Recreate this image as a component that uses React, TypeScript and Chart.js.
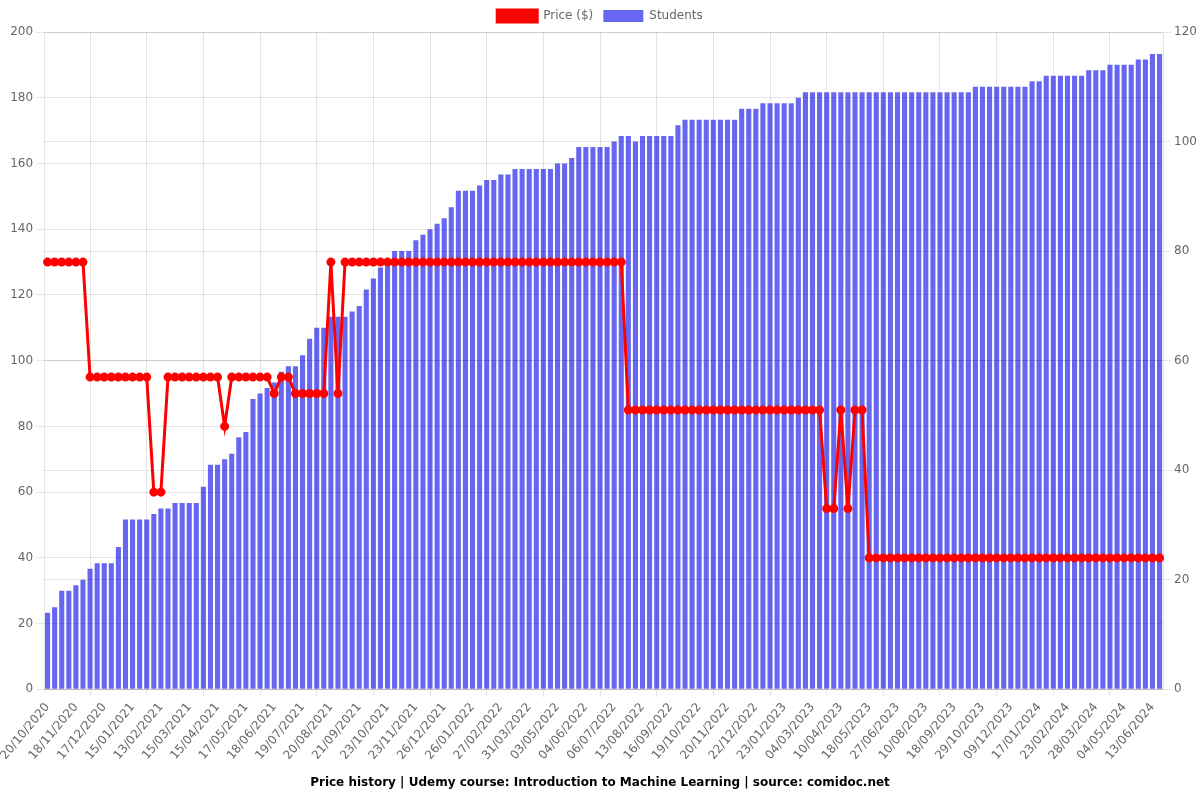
import React, { useEffect, useRef } from "react";
import { Chart, registerables } from "chart.js";

Chart.register(...registerables);

const dates: string[] = [
  "20/10/2020", "27/10/2020", "03/11/2020", "11/11/2020",
  "18/11/2020", "25/11/2020", "02/12/2020", "10/12/2020",
  "17/12/2020", "24/12/2020", "31/12/2020", "08/01/2021",
  "15/01/2021", "22/01/2021", "29/01/2021", "06/02/2021",
  "13/02/2021", "20/02/2021", "28/02/2021", "07/03/2021",
  "15/03/2021", "23/03/2021", "31/03/2021", "08/04/2021",
  "15/04/2021", "23/04/2021", "01/05/2021", "09/05/2021",
  "17/05/2021", "25/05/2021", "02/06/2021", "10/06/2021",
  "18/06/2021", "26/06/2021", "04/07/2021", "11/07/2021",
  "19/07/2021", "27/07/2021", "04/08/2021", "12/08/2021",
  "20/08/2021", "28/08/2021", "05/09/2021", "13/09/2021",
  "21/09/2021", "29/09/2021", "07/10/2021", "15/10/2021",
  "23/10/2021", "31/10/2021", "08/11/2021", "15/11/2021",
  "23/11/2021", "01/12/2021", "09/12/2021", "17/12/2021",
  "26/12/2021", "03/01/2022", "11/01/2022", "18/01/2022",
  "26/01/2022", "03/02/2022", "11/02/2022", "19/02/2022",
  "27/02/2022", "07/03/2022", "15/03/2022", "23/03/2022",
  "31/03/2022", "08/04/2022", "16/04/2022", "25/04/2022",
  "03/05/2022", "11/05/2022", "19/05/2022", "27/05/2022",
  "04/06/2022", "12/06/2022", "20/06/2022", "28/06/2022",
  "06/07/2022", "15/07/2022", "25/07/2022", "04/08/2022",
  "13/08/2022", "21/08/2022", "29/08/2022", "07/09/2022",
  "16/09/2022", "24/09/2022", "02/10/2022", "11/10/2022",
  "19/10/2022", "27/10/2022", "04/11/2022", "12/11/2022",
  "20/11/2022", "28/11/2022", "06/12/2022", "14/12/2022",
  "22/12/2022", "30/12/2022", "07/01/2023", "15/01/2023",
  "23/01/2023", "02/02/2023", "12/02/2023", "22/02/2023",
  "04/03/2023", "13/03/2023", "22/03/2023", "31/03/2023",
  "10/04/2023", "19/04/2023", "29/04/2023", "08/05/2023",
  "18/05/2023", "28/05/2023", "07/06/2023", "17/06/2023",
  "27/06/2023", "08/07/2023", "19/07/2023", "30/07/2023",
  "10/08/2023", "20/08/2023", "30/08/2023", "08/09/2023",
  "18/09/2023", "28/09/2023", "08/10/2023", "19/10/2023",
  "29/10/2023", "08/11/2023", "19/11/2023", "29/11/2023",
  "09/12/2023", "19/12/2023", "29/12/2023", "07/01/2024",
  "17/01/2024", "26/01/2024", "04/02/2024", "14/02/2024",
  "23/02/2024", "02/03/2024", "10/03/2024", "19/03/2024",
  "28/03/2024", "06/04/2024", "15/04/2024", "25/04/2024",
  "04/05/2024", "14/05/2024", "24/05/2024", "03/06/2024",
  "13/06/2024", "22/06/2024",
];

const prices: number[] = [
  130, 130, 130, 130, 130, 130,
  95, 95, 95, 95, 95, 95, 95, 95, 95,
  60, 60,
  95, 95, 95, 95, 95, 95, 95, 95,
  80,
  95, 95, 95, 95, 95, 95,
  90,
  95, 95,
  90, 90, 90, 90, 90,
  130,
  90,
  130, 130, 130, 130, 130, 130, 130, 130, 130, 130,
  130, 130, 130, 130, 130, 130, 130, 130, 130, 130,
  130, 130, 130, 130, 130, 130, 130, 130, 130, 130,
  130, 130, 130, 130, 130, 130, 130, 130, 130, 130,
  85, 85, 85, 85, 85, 85, 85, 85, 85, 85,
  85, 85, 85, 85, 85, 85, 85, 85, 85, 85,
  85, 85, 85, 85, 85, 85, 85, 85,
  55, 55,
  85,
  55,
  85, 85,
  40, 40, 40, 40, 40, 40, 40, 40, 40, 40,
  40, 40, 40, 40, 40, 40, 40, 40, 40, 40,
  40, 40, 40, 40, 40, 40, 40, 40, 40, 40,
  40, 40, 40, 40, 40, 40, 40, 40, 40, 40,
  40, 40,
];

const students: number[] = [
  14, 15, 18, 18, 19, 20, 22, 23, 23, 23,
  26, 31, 31, 31, 31, 32, 33, 33, 34, 34,
  34, 34, 37, 41, 41, 42, 43, 46, 47, 53,
  54, 55, 56, 58, 59, 59, 61, 64, 66, 66,
  68, 68, 68, 69, 70, 73, 75, 77, 78, 80,
  80, 80, 82, 83, 84, 85, 86, 88, 91, 91,
  91, 92, 93, 93, 94, 94, 95, 95, 95, 95,
  95, 95, 96, 96, 97, 99, 99, 99, 99, 99,
  100, 101, 101, 100, 101, 101, 101, 101, 101, 103,
  104, 104, 104, 104, 104, 104, 104, 104, 106, 106,
  106, 107, 107, 107, 107, 107, 108, 109, 109, 109,
  109, 109, 109, 109, 109, 109, 109, 109, 109, 109,
  109, 109, 109, 109, 109, 109, 109, 109, 109, 109,
  109, 110, 110, 110, 110, 110, 110, 110, 110, 111,
  111, 112, 112, 112, 112, 112, 112, 113, 113, 113,
  114, 114, 114, 114, 115, 115, 116, 116,
];

const titleText = "Price history | Udemy course: Introduction to Machine Learning | source: comidoc.net";

export default function App() {
  const canvasRef = useRef<HTMLCanvasElement | null>(null);

  useEffect(() => {
    if (!canvasRef.current) return;
    Chart.defaults.font.family = "'DejaVu Sans', sans-serif";
    Chart.defaults.font.size = 12;
    const chart = new Chart(canvasRef.current, {
      type: "bar",
      data: {
        labels: dates,
        datasets: [
          {
            type: "line",
            label: "Price ($)",
            data: prices,
            yAxisID: "y",
            borderColor: "#ff0000",
            backgroundColor: "#ff0000",
            borderWidth: 3,
            pointRadius: 3,
            pointBackgroundColor: "#ff0000",
            pointBorderColor: "#ff0000",
            tension: 0,
          } as any,
          {
            type: "bar",
            label: "Students",
            data: students,
            yAxisID: "y1",
            backgroundColor: "rgba(0, 0, 230, 0.6)",
            borderColor: "rgba(0, 0, 230, 0.6)",
            borderWidth: 0,
          },
        ],
      },
      options: {
        animation: false,
        responsive: true,
        maintainAspectRatio: false,
        plugins: {
          legend: {
            display: true,
            position: "top",
          },
          title: {
            display: true,
            position: "bottom",
            text: titleText,
            color: "#000",
            font: { size: 12, weight: "bold" },
          },
          tooltip: { enabled: false },
        },
        scales: {
          x: {
            ticks: {
              minRotation: 50,
              maxRotation: 50,
              autoSkip: true,
              maxTicksLimit: 40,
            },
          },
          y: {
            type: "linear",
            position: "left",
            min: 0,
            max: 200,
            ticks: { stepSize: 20 },
          },
          y1: {
            type: "linear",
            position: "right",
            min: 0,
            max: 120,
            ticks: { stepSize: 20 },
          },
        },
      },
    });
    return () => chart.destroy();
  }, []);

  return (
    <div style={{ position: "absolute", left: 0, top: 0, width: 1200, height: 800 }}>
      <canvas ref={canvasRef} />
    </div>
  );
}
